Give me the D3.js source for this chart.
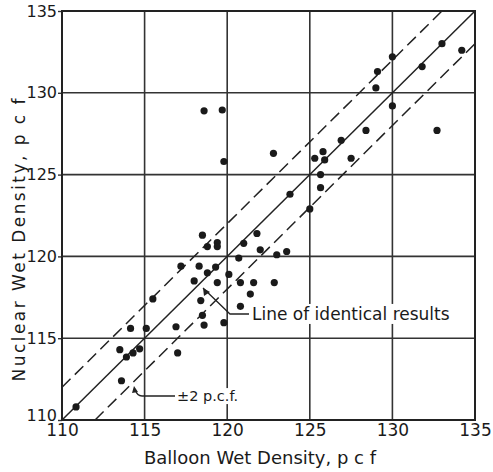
<!DOCTYPE html>
<html>
<head>
<meta charset="utf-8">
<script src="https://cdn.jsdelivr.net/npm/d3@7"></script>
<style>
  body { margin: 0; background: #fff; }
  text { font-family: "DejaVu Sans", sans-serif; fill: #1a1a1a; }
</style>
</head>
<body>
<div id="chart"></div>
<script>
// balloon (x) and nuclear (y) wet densities, pcf
var balloon = [110.85, 113.6, 113.5, 113.9, 114.3, 114.7, 114.15, 115.1, 115.5, 116.9,
  117.0, 117.2, 118.0, 118.3, 118.4, 118.5, 118.6, 118.5, 118.8, 118.8,
  119.4, 119.4, 119.3, 119.4, 119.8, 120.1, 120.7, 120.8, 120.8, 121.0,
  121.4, 121.6, 121.8, 122.0, 122.85, 123.0, 123.6, 118.6, 119.7, 119.8,
  122.8, 123.8, 125.0, 125.65, 125.65, 125.3, 125.9, 125.8, 127.5, 126.9,
  128.4, 130.0, 132.7, 129.0, 129.1, 130.0, 131.8, 133.0, 134.2];
var nuclear = [110.8, 112.4, 114.3, 113.85, 114.1, 114.35, 115.6, 115.6, 117.4, 115.7,
  114.1, 119.4, 118.5, 119.4, 117.3, 116.4, 115.8, 121.3, 120.6, 119.0,
  120.85, 120.6, 119.35, 118.4, 115.95, 118.9, 119.9, 118.4, 116.95, 120.8,
  117.7, 118.4, 121.4, 120.4, 118.4, 120.1, 120.3, 128.9, 128.95, 125.8,
  126.3, 123.8, 122.9, 124.2, 125.0, 126.0, 125.9, 126.4, 126.0, 127.1,
  127.7, 129.2, 127.7, 130.3, 131.3, 132.2, 131.6, 133.0, 132.6];
var xTicks = [110, 115, 120, 125, 130, 135];
var yTicks = [110, 115, 120, 125, 130, 135];
var band = 2; // +/- 2 pcf

var width = 493, height = 472;
var mLeft = 62, mRight = 475, mTop = 11, mBottom = 420;

var svg = d3.select("#chart").append("svg")
  .attr("width", width)
  .attr("height", height);

var x = d3.scaleLinear().domain([110, 135]).range([mLeft, mRight]);
var y = d3.scaleLinear().domain([110, 135]).range([mBottom, mTop]);

/*
 * Grid.
 */
svg.append("g").selectAll("line")
  .data(xTicks.slice(1, -1))
  .enter().append("line")
  .attr("x1", function(d) { return x(d); })
  .attr("x2", function(d) { return x(d); })
  .attr("y1", mTop).attr("y2", mBottom)
  .attr("stroke", "#333").attr("stroke-width", 1.6);

svg.append("g").selectAll("line")
  .data(yTicks.slice(1, -1))
  .enter().append("line")
  .attr("y1", function(d) { return y(d); })
  .attr("y2", function(d) { return y(d); })
  .attr("x1", mLeft).attr("x2", mRight)
  .attr("stroke", "#333").attr("stroke-width", 1.6);

/*
 * Axes: left gets short outside ticks, bottom only labels.
 */
var yAxis = svg.append("g")
  .attr("transform", "translate(" + mLeft + ",0)")
  .call(d3.axisLeft(y).tickValues(yTicks).tickSize(4).tickPadding(1).tickFormat(d3.format("d")));
yAxis.select(".domain").remove();
yAxis.selectAll("line").attr("stroke", "#333").attr("stroke-width", 1.4);
yAxis.selectAll("text").style("font-size", "16px").attr("fill", "#1a1a1a");
// lowest label sits a bit higher so it clears the x label
yAxis.selectAll(".tick").filter(function(d) { return d === 110; })
  .select("text").attr("y", -5);

var xAxis = svg.append("g")
  .attr("transform", "translate(0," + mBottom + ")")
  .call(d3.axisBottom(x).tickValues(xTicks).tickSize(0).tickPadding(4).tickFormat(d3.format("d")));
xAxis.select(".domain").remove();
xAxis.selectAll("text").style("font-size", "17px").attr("fill", "#1a1a1a");

svg.append("rect")
  .attr("x", mLeft).attr("y", mTop)
  .attr("width", mRight - mLeft).attr("height", mBottom - mTop)
  .attr("fill", "none").attr("stroke", "#222").attr("stroke-width", 2);

/*
 * Line of identical results and the +/- 2 band.
 */
var line = d3.line()
  .x(function(d) { return x(d[0]); })
  .y(function(d) { return y(d[1]); });

svg.append("path")
  .attr("d", line([[110, 110], [135, 135]]))
  .attr("stroke", "#222").attr("stroke-width", 1.5).attr("fill", "none");

svg.append("path")
  .attr("d", line([[110, 110 + band], [135 - band, 135]]))
  .attr("stroke", "#222").attr("stroke-width", 1.5).attr("fill", "none")
  .attr("stroke-dasharray", "12,6");

svg.append("path")
  .attr("d", line([[110 + band, 110], [135, 135 - band]]))
  .attr("stroke", "#222").attr("stroke-width", 1.5).attr("fill", "none")
  .attr("stroke-dasharray", "12,6");

/*
 * Labels with white boxes, they break the grid.
 */
function label(txt, tx, ty, size) {
  var t = svg.append("text")
    .attr("x", tx).attr("y", ty)
    .attr("dy", "0.35em")
    .style("font-size", size + "px")
    .text(txt);
  var b = t.node().getBBox();
  svg.insert("rect", function() { return t.node(); })
    .attr("x", b.x - 2).attr("y", b.y)
    .attr("width", b.width + 4).attr("height", b.height)
    .attr("fill", "#fff");
  return t;
}

label("Line of identical results", 252, 314, 17);
label("\u00b12 p.c.f.", 177, 396, 14.5);

// leader for identical line
svg.append("path")
  .attr("d", "M249,314 L230,314 L203,288")
  .attr("stroke", "#222").attr("stroke-width", 1.3).attr("fill", "none");
svg.append("path")
  .attr("d", "M203,288 L204,296 L210,292 Z")
  .attr("fill", "#222");

// leader for band
svg.append("path")
  .attr("d", "M175,396 L142,396 Q137,396 135,389")
  .attr("stroke", "#222").attr("stroke-width", 1.3).attr("fill", "none");
svg.append("path")
  .attr("d", "M134,386 L132,393 L138,392 Z")
  .attr("fill", "#222");

/*
 * Points.
 */
svg.append("g").selectAll("circle")
  .data(balloon)
  .enter().append("circle")
  .attr("cx", function(d) { return x(d); })
  .attr("cy", function(d, i) { return y(nuclear[i]); })
  .attr("r", 3.6)
  .attr("fill", "#1a1a1a");

/*
 * Axis titles.
 */
svg.append("text")
  .attr("x", 260).attr("y", 458).attr("dy", "0.35em")
  .attr("text-anchor", "middle")
  .style("font-size", "18px")
  .text("Balloon Wet Density, p c f");

svg.append("text")
  .attr("transform", "translate(19,240) rotate(-90)")
  .attr("dy", "0.35em")
  .attr("text-anchor", "middle")
  .attr("textLength", 283)
  .attr("lengthAdjust", "spacing")
  .style("font-size", "17px")
  .text("Nuclear Wet Density, p c f");
</script>
</body>
</html>
